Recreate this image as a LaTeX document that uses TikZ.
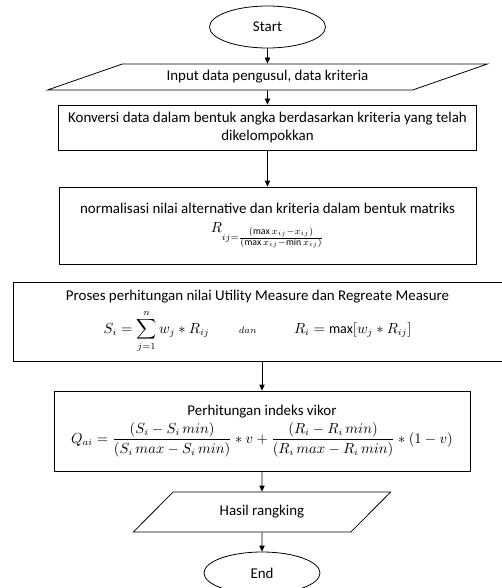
\documentclass[tikz,border=0pt]{standalone}
\usepackage{amsmath, amssymb}
\usepackage{fontspec}
\setmainfont{Carlito}
\usetikzlibrary{arrows.meta,shapes.geometric}
\newcommand{\mathsize}{\fontsize{10.5}{13}\selectfont}

\begin{document}
\begin{tikzpicture}[x=0.75pt,y=-0.75pt,line width=0.6pt,
  every node/.style={draw,align=center,inner sep=1pt,font=\fontsize{11.2}{13.5}\selectfont},
  terminal/.style={ellipse,minimum width=87pt,minimum height=31.5pt},
  data/.style={trapezium,trapezium stretches=true},
  process/.style={rectangle}]
\useasboundingbox (0,0) rectangle (502,588);
\node[terminal] at(267.5,27)(start){Start};
\node[data,trapezium left angle=16.5,trapezium right angle=163.5,minimum width=330pt,minimum height=19.5pt] at(267.5,77)(input){Input data pengusul, data kriteria};
\node[process,minimum width=313.5pt,minimum height=33.75pt] at(267.5,127.5)(konversi){Konversi data dalam bentuk angka berdasarkan kriteria yang telah\\dikelompokkan};
\node[process,minimum width=312.75pt,minimum height=57.75pt] at(267.5,225.5)(normalisasi){normalisasi nilai alternative dan kriteria dalam bentuk matriks\\[1pt]
  {\mathsize$R_{ij=\frac{\scriptstyle(\max x_{ij}-x_{ij})}{\scriptstyle\left(\max x_{ij}-\min x_{ij}\right)}}$}};
\node[process,minimum width=366.75pt,minimum height=59.25pt] at(257.5,321.5)(proses){Proses perhitungan nilai Utility Measure dan Regreate Measure\\[4pt]
  {\mathsize$S_i=\displaystyle\sum_{j=1}^{n} w_j * R_{ij}$\hspace{22pt}{\scriptsize$dan$}\hspace{28pt}$R_i=\max[w_j * R_{ij}]$}};
\node[process,minimum width=312pt,minimum height=60pt] at(262,431)(perhitungan){Perhitungan indeks vikor\\[2pt]
  {\mathsize$Q_{ai}=\dfrac{(S_i-S_i\,min)}{(S_i\,max-S_i\,min)}*v+\dfrac{(R_i-R_i\,min)}{(R_i\,max-R_i\,min)}*(1-v)$}};
\node[data,trapezium left angle=38.7,trapezium right angle=141.3,minimum width=194.25pt,minimum height=30pt] at(262,512)(hasil){Hasil rangking};
\node[terminal] at(262,573)(stop){End};
\path[-{Triangle[length=4.5pt,width=4pt]}](start)edge(input)(input)edge(konversi)(konversi)edge(normalisasi)
     (perhitungan|-proses.south)edge(perhitungan)(perhitungan)edge(hasil)(hasil)edge(stop);
\end{tikzpicture}
\end{document}
